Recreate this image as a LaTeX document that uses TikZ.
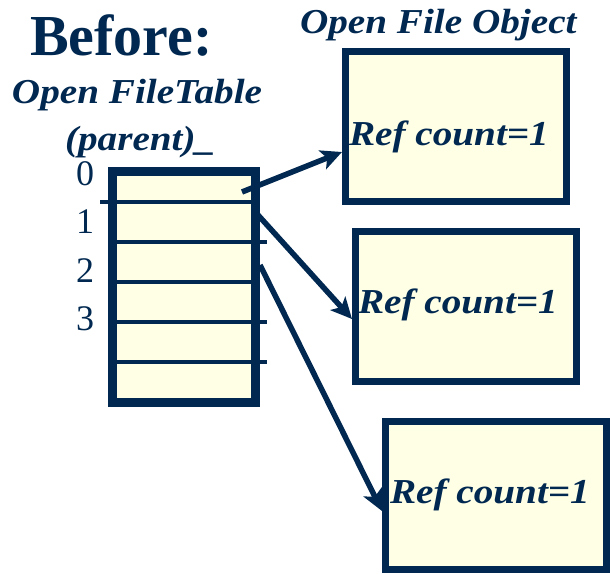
\documentclass[tikz,border=0pt]{standalone}
\usepackage{fontspec}
\setmainfont{Liberation Serif}
\newfontfamily\widefont[FakeStretch=1.12]{Liberation Serif}
\usetikzlibrary{arrows.meta}

\definecolor{navy}{RGB}{0,40,80}
\definecolor{cream}{RGB}{255,255,230}

\begin{document}
\begin{tikzpicture}[x=1pt,y=-1pt,
  every node/.style={inner sep=0pt, outer sep=0pt, text=navy},
  heading/.style={anchor=base west, font=\widefont\bfseries\itshape\fontsize{35}{36}\selectfont},
  title/.style={anchor=base west, font=\bfseries\fontsize{58}{60}\selectfont},
  index/.style={anchor=base, font=\fontsize{36}{36}\selectfont},
  objbox/.style={draw=navy, fill=cream, line width=7pt, outer sep=3.5pt, minimum width=221pt, minimum height=150pt},
  tablebox/.style={draw=navy, fill=cream, line width=9pt, minimum width=143pt, minimum height=231pt},
  row/.style={draw=navy, line width=4pt},
  refarrow/.style={draw=navy, line width=5.5pt, -{Stealth[length=21pt,width=20pt,inset=5pt]}},
  reftext/.style={anchor=base west, font=\widefont\bfseries\itshape\fontsize{35}{36}\selectfont}
]
\useasboundingbox (0,0) rectangle (610,573);

% headings
\node[title] (before) at (30,55) {Before:};
\node[heading] (oft) at (12,103) {Open FileTable};
\node[heading] (parent) at (65,150) {(parent)\_};
\node[heading] (ofo) at (300,33) {Open File Object};

% open file table of the parent
\node[tablebox] (table) at (184,287) {};
\draw[row] (100,202) -- (260,202);
\draw[row] (108,242) -- (267,242);
\draw[row] (108,282) -- (260,282);
\draw[row] (108,322) -- (267,322);
\draw[row] (108,362) -- (267,362);

% descriptor numbers
\node[index] (i0) at (85,185) {0};
\node[index] (i1) at (85,233) {1};
\node[index] (i2) at (85,282) {2};
\node[index] (i3) at (85,330) {3};

% open file objects
\node[objbox] (obj1) at (456,126.5) {};
\node[objbox] (obj2) at (466,306.5) {};
\node[objbox, minimum height=148pt] (obj3) at (496,495.5) {};
\node[reftext] (r1) at (349,145) {Ref count=1};
\node[reftext] (r2) at (358,313) {Ref count=1};
\node[reftext] (r3) at (390,503) {Ref count=1};

% pointers from table entries to the objects
\coordinate (s0) at (242,192);
\coordinate (s1) at (258,215);
\coordinate (s2) at (260,265);
\draw[refarrow] (s0) -- (obj1.west |- 0,152);
\draw[refarrow] (s1) -- (obj2.west |- 0,319);
\draw[refarrow] (s2) -- (obj3.west |- 0,511);
\end{tikzpicture}
\end{document}
